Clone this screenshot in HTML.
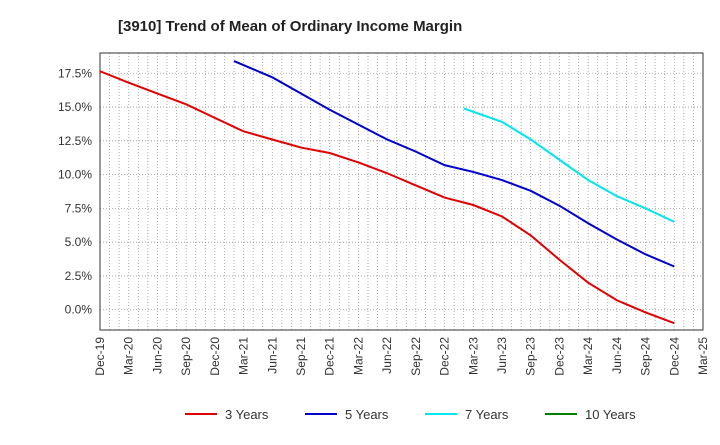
<!DOCTYPE html>
<html><head><meta charset="utf-8"><style>
body{margin:0;background:#fff;font-family:"Liberation Sans",sans-serif;}
</style></head><body>
<svg id="c" width="720" height="440" xmlns="http://www.w3.org/2000/svg"></svg>
<script>
const categories=["Dec-19","Mar-20","Jun-20","Sep-20","Dec-20","Mar-21","Jun-21","Sep-21","Dec-21","Mar-22","Jun-22","Sep-22","Dec-22","Mar-23","Jun-23","Sep-23","Dec-23","Mar-24","Jun-24","Sep-24","Dec-24","Mar-25"];
const yTicks=[0,2.5,5,7.5,10,12.5,15,17.5];
const s3=[17.65,16.8,16.0,15.2,14.2,13.2,12.6,12.0,11.6,10.9,10.1,9.2,8.3,7.75,6.9,5.5,3.7,2.0,0.7,-0.2,-1.0,null];
const s5=[null,null,null,null,null,18.4,17.2,16.0,14.8,13.7,12.6,11.7,10.7,10.2,9.6,8.8,7.7,6.4,5.2,4.1,3.2,null];
const s7=[null,null,null,null,null,null,null,null,null,null,null,null,null,14.9,13.9,12.6,11.1,9.6,8.4,7.5,6.5,null];
const s10=[];
const start5=-1/3, start7=-1/3;
const L=100,R=703,T=53,B=330,yMin=-1.5,yMax=19.0;
const x=i=>L+(R-L)*i/(categories.length-1);
const y=v=>B-(v-yMin)/(yMax-yMin)*(B-T);
const svg=document.getElementById('c');
const NS="http://www.w3.org/2000/svg";
function mk(t,a,p){const e=document.createElementNS(NS,t);for(const k in a)e.setAttribute(k,a[k]);(p||svg).appendChild(e);return e;}
let e=mk('text',{x:118,y:31,'font-size':15,'font-weight':'bold',fill:'#222'});e.textContent="[3910]  Trend of Mean of Ordinary Income Margin";


const g=mk('g',{});


for(let m=0;m<=(categories.length-1)*3;m++){const xx=L+(R-L)*m/((categories.length-1)*3);mk('line',{x1:xx,x2:xx,y1:T,y2:B,stroke:'#999','stroke-dasharray':'1,2','stroke-width':0.8},g);}
yTicks.forEach(v=>{mk('line',{x1:L,x2:R,y1:y(v),y2:y(v),stroke:'#999','stroke-dasharray':'1,2','stroke-width':0.8},g);
 const t=mk('text',{x:L-8,y:y(v)+4,'font-size':12,'text-anchor':'end',fill:'#333'});t.textContent=v.toFixed(1)+'%';
 
 });
const f=mk('rect',{x:L,y:T,width:R-L,height:B-T,fill:'none',stroke:'#333'});


categories.forEach((c,i)=>{const t=mk('text',{transform:`translate(${x(i)+4},${B+7}) rotate(-90)`,'font-size':12,'text-anchor':'end',fill:'#333'});t.textContent=c;
 
 });
function line(d,col,name,firstShift){let p='';let first=true;d.forEach((v,i)=>{if(v==null)return;const xi=first?i+(firstShift||0):i;p+=(p?'L':'M')+x(xi)+','+y(v);first=false;});
 if(!p)return;const l=mk('path',{d:p,fill:'none',stroke:col,'stroke-width':2});
 
 }
line(s3,'#e00000','line-3-years',0);line(s5,'#0000cc','line-5-years',start5);line(s7,'#00e5ee','line-7-years',start7);line(s10,'#008000','line-10-years',0);
const leg=[["3 Years","#e00000",185],["5 Years","#0000cc",305],["7 Years","#00e5ee",425],["10 Years","#008000",545]];
leg.forEach(([n,c,lx])=>{const gg=mk('g',{});
 
 
 mk('line',{x1:lx,x2:lx+32,y1:414,y2:414,stroke:c,'stroke-width':2},gg);
 const t=mk('text',{x:lx+40,y:419,'font-size':13,fill:'#333'},gg);t.textContent=n;});
</script>
</body></html>
